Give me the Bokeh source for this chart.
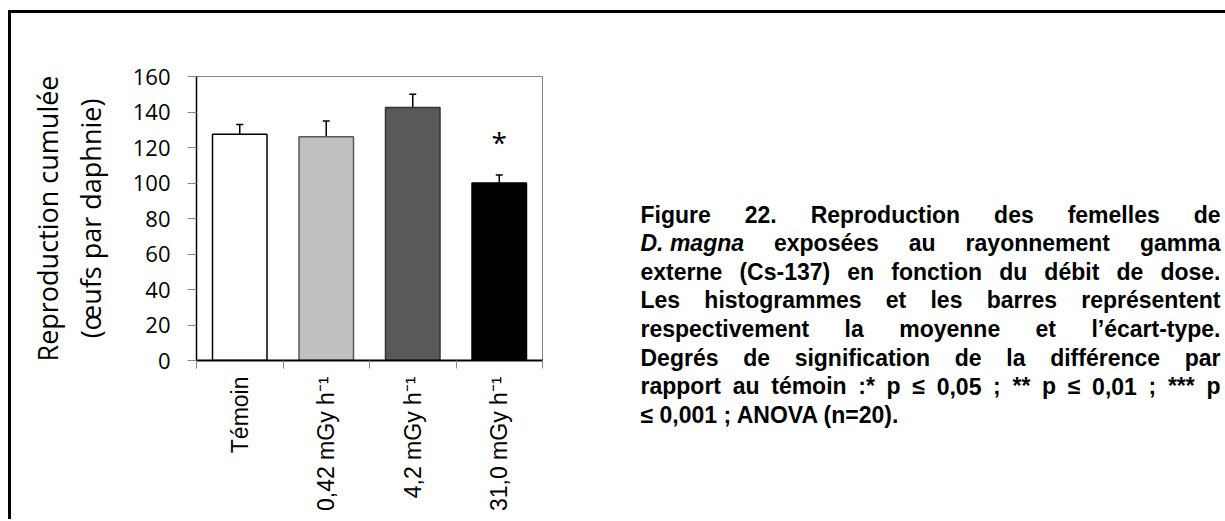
import math
from bokeh.plotting import figure
from bokeh.models import ColumnDataSource, Range1d, FixedTicker, Whisker, TeeHead, Title
from bokeh.layouts import row
from bokeh.core.properties import value
from bokeh.embed import file_html
from bokeh.resources import INLINE

# ---------------- data ----------------
categories = ["Témoin", "0,42 mGy h\u207b\u00b9", "4,2 mGy h\u207b\u00b9", "31,0 mGy h\u207b\u00b9"]
means = [127.5, 126.0, 142.5, 100.0]
sds = [5.5, 9.0, 7.5, 4.5]
significance = ["", "", "", "*"]
y_ticks = [0, 20, 40, 60, 80, 100, 120, 140, 160]
bar_fill = ["#ffffff", "#c0c0c0", "#595959", "#000000"]
bar_line = ["#000000", "#595959", "#333333", "#000000"]

y_title_1 = "Reproduction cumulée"
y_title_2 = "(œufs par daphnie)"

caption_lines = [
    "Figure 22. Reproduction des femelles de",
    "D.\u00a0magna exposées au rayonnement gamma",
    "externe (Cs-137) en fonction du débit de dose.",
    "Les histogrammes et les barres représentent",
    "respectivement la moyenne et l\u2019écart-type.",
    "Degrés de signification de la différence par",
    "rapport au témoin :* p \u2264 0,05 ; ** p \u2264 0,01 ; *** p",
    "\u2264 0,001 ; ANOVA (n=20).",
]
italic_tokens = ["D.\u00a0magna"]

# ---------------- geometry ----------------
OFF_X, OFF_Y, BORDER = 8, 10, 3
ORG_X, ORG_Y = OFF_X + BORDER, OFF_Y + BORDER          # page position of canvases
FRAME_L, FRAME_T, FRAME_W, FRAME_H = 196, 76, 346, 284  # page position of the chart frame
B_LEFT = FRAME_L - ORG_X
B_TOP = FRAME_T - ORG_Y
B_RIGHT = 8
B_BOTTOM = 159
CHART_W = B_LEFT + FRAME_W + B_RIGHT
H = B_TOP + FRAME_H + B_BOTTOM
CAP_W = 1225 - ORG_X - CHART_W
CAP_X0 = ORG_X + CHART_W

# ---------------- chart ----------------
x = list(range(len(categories)))
upper = [m + s for m, s in zip(means, sds)]
src = ColumnDataSource(dict(x=x, mean=means, upper=upper, fill=bar_fill,
                            line=bar_line, sig=significance))

p = figure(frame_width=FRAME_W, frame_height=FRAME_H,
           x_range=Range1d(-0.5, len(categories) - 0.5),
           y_range=Range1d(y_ticks[0], y_ticks[-1]),
           output_backend="svg", toolbar_location=None,
           min_border_left=B_LEFT, min_border_top=B_TOP,
           min_border_right=B_RIGHT, min_border_bottom=B_BOTTOM)
p.background_fill_color = "white"
p.border_fill_color = "white"
p.outline_line_color = "#868686"
p.outline_line_width = 1
p.xgrid.visible = False
p.ygrid.visible = False

p.vbar(x="x", top="mean", bottom=0, width=0.63, source=src,
       fill_color="fill", line_color="line", line_width=1.5)

wh = Whisker(source=src, base="x", upper="upper", lower="mean",
             line_color="black", line_width=1.5,
             upper_head=TeeHead(size=7, line_color="black", line_width=1.5),
             lower_head=None)
p.add_layout(wh)

p.text(x="x", y="upper", text="sig", source=src,
       text_font=value("Open Sans"), text_font_size="28px",
       text_align="center", text_baseline="alphabetic", y_offset=-33,
       text_color="black")

xa = p.xaxis[0]
xa.ticker = FixedTicker(ticks=x, minor_ticks=[i - 0.5 for i in range(len(categories) + 1)])
xa.major_label_overrides = {i: c for i, c in enumerate(categories)}
xa.major_label_orientation = math.pi / 2
xa.major_tick_out = 0
xa.major_tick_in = 0
xa.minor_tick_out = 8
xa.minor_tick_in = 0
xa.minor_tick_line_color = "#868686"
xa.minor_tick_line_width = 1
xa.axis_line_color = "black"
xa.axis_line_width = 2
xa.major_label_standoff = 8
xa.major_label_text_font = "Liberation Sans"
xa.major_label_text_font_size = "23px"
xa.major_label_text_color = "black"

ya = p.yaxis[0]
ya.ticker = FixedTicker(ticks=y_ticks)
ya.minor_tick_out = 0
ya.minor_tick_in = 0
ya.major_tick_out = 9
ya.major_tick_in = 0
ya.major_tick_line_color = "#868686"
ya.axis_line_color = "black"
ya.axis_line_width = 1.5
ya.major_label_standoff = 17
ya.major_label_text_font = "Open Sans"
ya.major_label_text_font_size = "22px"
ya.major_label_text_color = "black"
ya.axis_label = y_title_2
ya.axis_label_text_font = "Open Sans"
ya.axis_label_text_font_size = "27px"
ya.axis_label_text_font_style = "normal"
ya.axis_label_text_color = "black"
ya.axis_label_standoff = 21

t1 = Title(text=y_title_1, align="center", text_font="Open Sans",
           text_font_size="27px", text_font_style="normal",
           text_color="black", standoff=5)
p.add_layout(t1, "left")

# ---------------- caption (justified text, page coordinates) ----------------
FS = 23
LEFT, RIGHT = 640, 1220
TOP, PITCH = 214, 28.6

# Arial/Liberation Sans Bold advance widths (1/1000 em)
CW = {" ": 278, "\u00a0": 278, "(": 333, ")": 333, "*": 389, ",": 278, "-": 333,
      ".": 278, ":": 333, ";": 333, "=": 584, "\u2264": 549, "\u2019": 278,
      "A": 722, "C": 722, "D": 722, "F": 611, "L": 611, "N": 722, "O": 778,
      "R": 722, "V": 667, "a": 556, "b": 611, "c": 556, "d": 611, "e": 556,
      "é": 556, "f": 333, "g": 611, "h": 611, "i": 278, "l": 278, "m": 889,
      "n": 611, "o": 611, "p": 611, "r": 389, "s": 556, "t": 333, "u": 611,
      "v": 556, "x": 556, "y": 556}
for d in "0123456789":
    CW[d] = 556


def tw(s):
    return sum(CW.get(ch, 556) for ch in s) * FS / 1000.0


norm = dict(x=[], y=[], text=[])
ital = dict(x=[], y=[], text=[])
for i, line in enumerate(caption_lines):
    yy = TOP + PITCH * i
    if i == len(caption_lines) - 1:
        norm["x"].append(LEFT); norm["y"].append(yy); norm["text"].append(line)
        continue
    toks = line.split(" ")
    widths = [tw(t) for t in toks]
    gap = (RIGHT - LEFT - sum(widths)) / (len(toks) - 1)
    xx = LEFT
    for t, w in zip(toks, widths):
        target = ital if t in italic_tokens else norm
        target["x"].append(xx); target["y"].append(yy); target["text"].append(t)
        xx += w + gap

cap = figure(frame_width=CAP_W, frame_height=FRAME_H,
             x_range=Range1d(CAP_X0, CAP_X0 + CAP_W),
             y_range=Range1d(FRAME_T + FRAME_H, FRAME_T),
             output_backend="svg", toolbar_location=None,
             x_axis_location=None, y_axis_location=None,
             min_border_left=0, min_border_right=0,
             min_border_top=B_TOP, min_border_bottom=B_BOTTOM)
cap.grid.visible = False
cap.outline_line_color = None
cap.border_fill_color = "white"
r1 = cap.text(x="x", y="y", text="text", source=ColumnDataSource(norm),
              text_font=value("Liberation Sans"), text_font_size=f"{FS}px",
              text_font_style="bold", text_baseline="middle", text_align="left",
              text_color="black")
r2 = cap.text(x="x", y="y", text="text", source=ColumnDataSource(ital),
              text_font=value("Liberation Sans"), text_font_size=f"{FS}px",
              text_font_style="bold italic", text_baseline="middle", text_align="left",
              text_color="black")
r1.level = "overlay"
r2.level = "overlay"

layout = row(p, cap, margin=(OFF_Y, 0, 0, OFF_X),
             styles={"border-top": f"{BORDER}px solid black",
                     "border-left": f"{BORDER}px solid black"})

open("out.html", "w").write(file_html(layout, INLINE))
